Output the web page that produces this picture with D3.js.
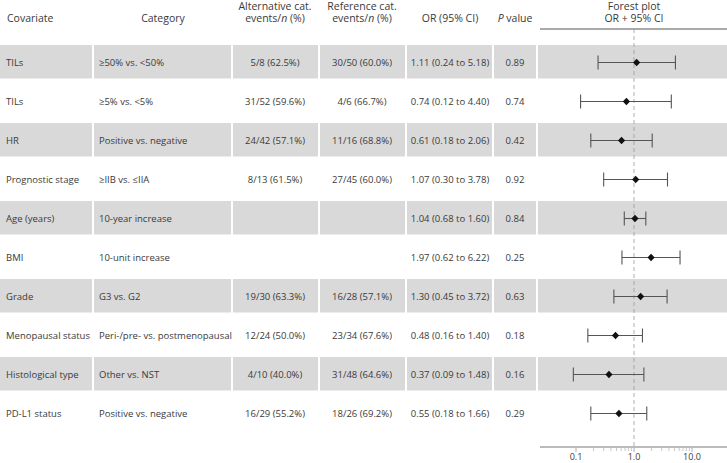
<!DOCTYPE html>
<html><head><meta charset="utf-8">
<script src="https://cdn.jsdelivr.net/npm/d3@7"></script>
<style>
html,body{margin:0;padding:0;background:#fff;}
svg{display:block;font-family:"Open Sans",sans-serif;}
</style></head>
<body>
<svg id="chart" width="727" height="463"></svg>
<script>
const covariates = ["TILs","TILs","HR","Prognostic stage","Age (years)","BMI","Grade","Menopausal status","Histological type","PD-L1 status"];
const categories = ["≥50% vs. <50%","≥5% vs. <5%","Positive vs. negative","≥IIB vs. ≤IIA","10-year increase","10-unit increase","G3 vs. G2","Peri-/pre- vs. postmenopausal","Other vs. NST","Positive vs. negative"];
const altEvents = ["5/8 (62.5%)","31/52 (59.6%)","24/42 (57.1%)","8/13 (61.5%)","","","19/30 (63.3%)","12/24 (50.0%)","4/10 (40.0%)","16/29 (55.2%)"];
const refEvents = ["30/50 (60.0%)","4/6 (66.7%)","11/16 (68.8%)","27/45 (60.0%)","","","16/28 (57.1%)","23/34 (67.6%)","31/48 (64.6%)","18/26 (69.2%)"];
const orValues = [1.11,0.74,0.61,1.07,1.04,1.97,1.30,0.48,0.37,0.55];
const ciLower = [0.24,0.12,0.18,0.30,0.68,0.62,0.45,0.16,0.09,0.18];
const ciUpper = [5.18,4.40,2.06,3.78,1.60,6.22,3.72,1.40,1.48,1.66];
const pValues = ["0.89","0.74","0.42","0.92","0.84","0.25","0.63","0.18","0.16","0.29"];
const majorTicks = [0.1,1,10];
const majorTickLabels = ["0.1","1.0","10.0"];
const minorTicks = [0.2,0.3,0.4,0.5,0.6,0.7,0.8,0.9,2,3,4,5,6,7,8,9];

const svg = d3.select("#chart");
const n = covariates.length;
const txt = "#3a3a3a";
const shade = "#d9d9d9";

// layout
const cols = [[0,92],[94,231],[233,318],[320,405],[407,492],[494,536],[538,727]];
const y = d3.scalePoint().domain(d3.range(n)).range([62.5, 62.5 + 39*(n-1)]);
const x = d3.scaleLog().domain([0.1,10]).range([576,692]);

// shaded rows
const shaded = d3.range(n).filter(i => i % 2 === 0);
const g = svg.append("g");
shaded.forEach(i => {
  cols.forEach(c => {
    g.append("rect").attr("x", c[0]).attr("width", c[1]-c[0])
      .attr("y", y(i)-17.5).attr("height", 33.5).attr("fill", shade);
  });
});

// headers
const hdr = svg.append("g").attr("fill", txt).style("font-size","10.5px");
const l1 = 10, l2 = 22;
hdr.append("text").attr("x",7).attr("y",l2).text("Covariate");
hdr.append("text").attr("x",163).attr("y",l2).attr("text-anchor","middle").text("Category");
function twoLine(cx, a, l2pre, l2it, l2post){
  hdr.append("text").attr("x",cx).attr("y",l1).attr("text-anchor","middle").text(a);
  const t = hdr.append("text").attr("x",cx).attr("y",l2).attr("text-anchor","middle");
  t.append("tspan").text(l2pre);
  t.append("tspan").style("font-style","italic").text(l2it);
  t.append("tspan").text(l2post);
}
twoLine(275,"Alternative cat.","events/","n"," (%)");
twoLine(362,"Reference cat.","events/","n"," (%)");
hdr.append("text").attr("x",450).attr("y",l2).attr("text-anchor","middle").text("OR (95% CI)");
const pv = hdr.append("text").attr("x",515).attr("y",l2).attr("text-anchor","middle");
pv.append("tspan").style("font-style","italic").text("P");
pv.append("tspan").text(" value");
hdr.append("text").attr("x",634).attr("y",l1).attr("text-anchor","middle").text("Forest plot");
hdr.append("text").attr("x",634).attr("y",l2).attr("text-anchor","middle").text("OR + 95% CI");
svg.append("line").attr("x1",540).attr("x2",727).attr("y1",29).attr("y2",29)
  .attr("stroke","#555").attr("stroke-width",1);

// data text
const body = svg.append("g").attr("fill", txt).style("font-size","9.5px");
const orText = orValues.map((v,i)=> v.toFixed(2)+" ("+ciLower[i].toFixed(2)+" to "+ciUpper[i].toFixed(2)+")");
d3.range(n).forEach(i => {
  const yy = y(i) + 3.5;
  body.append("text").attr("x",6).attr("y",yy).text(covariates[i]);
  body.append("text").attr("x",99).attr("y",yy).text(categories[i]);
  body.append("text").attr("x",275).attr("y",yy).attr("text-anchor","middle").text(altEvents[i]);
  body.append("text").attr("x",362).attr("y",yy).attr("text-anchor","middle").text(refEvents[i]);
  body.append("text").attr("x",450).attr("y",yy).attr("text-anchor","middle").text(orText[i]);
  body.append("text").attr("x",515).attr("y",yy).attr("text-anchor","middle").text(pValues[i]);
});

// reference dashed line
svg.append("line").attr("x1",x(1)).attr("x2",x(1)).attr("y1",29).attr("y2",447)
  .attr("stroke","#999").attr("stroke-width",0.8).attr("stroke-dasharray","4,3");

// error bars
const fp = svg.append("g");
d3.range(n).forEach(i => {
  const yy = y(i);
  fp.append("line").attr("x1",x(ciLower[i])).attr("x2",x(ciUpper[i])).attr("y1",yy).attr("y2",yy)
    .attr("stroke","#555").attr("stroke-width",1.1);
  [ciLower[i],ciUpper[i]].forEach(v => {
    fp.append("line").attr("x1",x(v)).attr("x2",x(v)).attr("y1",yy-7).attr("y2",yy+7)
      .attr("stroke","#555").attr("stroke-width",1.1);
  });
  fp.append("path").attr("transform",`translate(${x(orValues[i])},${yy})`)
    .attr("d","M0,-3.8L3.6,0L0,3.8L-3.6,0Z").attr("fill","#111");
});

// axis
const ax = svg.append("g");
ax.append("line").attr("x1",540).attr("x2",727).attr("y1",447).attr("y2",447)
  .attr("stroke","#777").attr("stroke-width",1);
ax.selectAll(".minor").data(minorTicks).enter().append("line")
  .attr("x1",d=>x(d)).attr("x2",d=>x(d)).attr("y1",448).attr("y2",451)
  .attr("stroke","#bbb").attr("stroke-width",0.8);
ax.selectAll(".major").data(majorTicks).enter().append("line")
  .attr("x1",d=>x(d)).attr("x2",d=>x(d)).attr("y1",448).attr("y2",452)
  .attr("stroke","#999").attr("stroke-width",0.8);
ax.selectAll(".lab").data(majorTicks).enter().append("text")
  .attr("x",d=>x(d)).attr("y",459.5).attr("text-anchor","middle")
  .attr("fill",txt).style("font-size","9px").text((d,i)=>majorTickLabels[i]);
</script>
</body></html>
